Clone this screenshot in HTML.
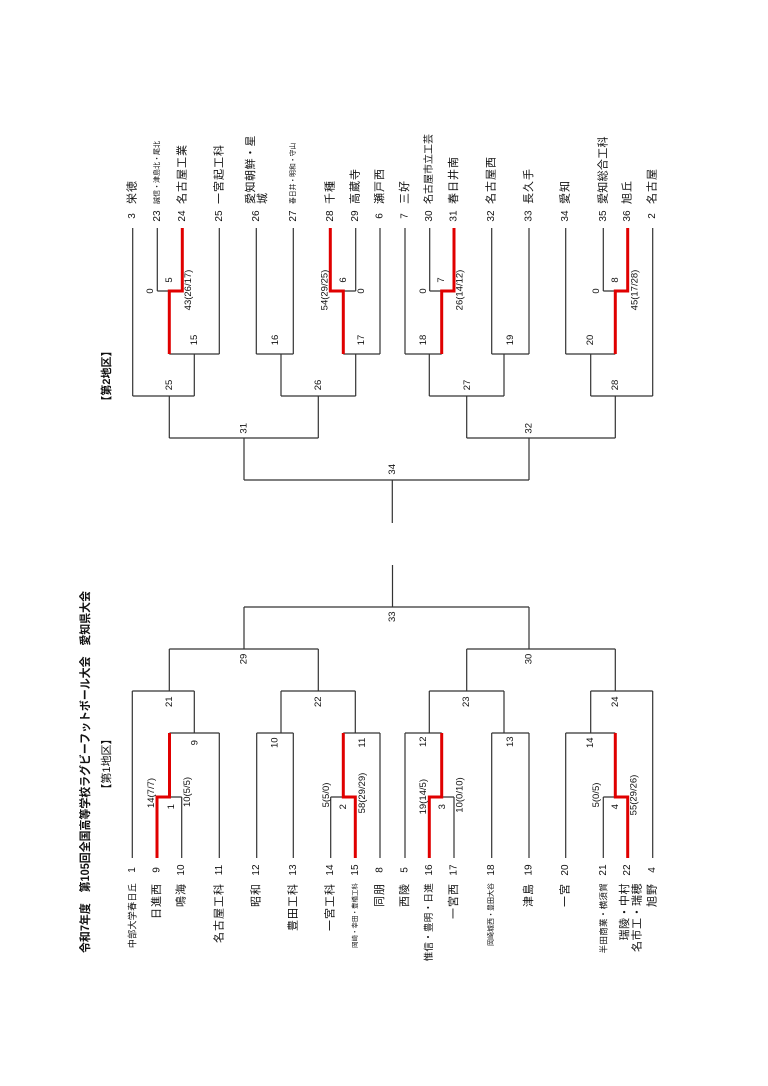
<!DOCTYPE html>
<html><head><meta charset="utf-8"><style>
html,body{margin:0;padding:0;background:#fff;}
svg{display:block;}
text{font-family:"Liberation Sans","Noto Sans CJK JP",sans-serif;fill:#111;dominant-baseline:central;}
.n{font-size:10px;text-anchor:middle;}
.s{font-size:9.5px;text-anchor:middle;}
.b{font-size:11px;letter-spacing:1px;}
.m{font-size:9px;letter-spacing:0.3px;}
.t{font-size:6.5px;}
.g{fill:none;stroke:#333;stroke-width:1.2;}
.r{fill:none;stroke:#e00000;stroke-width:3;}
</style></head><body>
<svg width="768" height="1086" viewBox="0 0 768 1086" xmlns="http://www.w3.org/2000/svg">
<path class="g" d="
M132.3 858V691 M181.7 858V797 M169.5 797H181.7 M219.3 858V733 M169.5 733H219.3 M194.3 733V691
M132.3 691H194.3 M169.3 691V649
M256.7 858V733 M293.3 858V733 M256.7 733H293.3 M281 733V691
M330.7 858V797 M330.7 797H343.3 M380 858V733 M343.3 733H380 M355.3 733V691
M281 691H355.3 M318.3 691V649 M169.3 649H318.3 M244 649V607
M405 858V733 M454 858V797 M441.7 797H454 M405 733H441.7 M429.3 733V691
M491.7 858V733 M529 858V733 M491.7 733H529 M504 733V691 M429.3 691H504 M466.7 691V649
M565.7 858V733 M603.3 858V797 M603.3 797H615.3 M565.7 733H615.3 M590.7 733V691
M652.7 858V691 M590.7 691H652.7 M615.3 691V649 M466.7 649H615.3 M529 649V607
M244 607H529 M392.5 607V565"/>
<path class="r" d="M157 858V797H169.5V733 M355.3 858V797H343.3V733 M429.3 858V797H441.7V733 M627.7 858V797H615.3V733"/>
<path class="g" d="
M132.7 228V396 M157.3 228V291 M157.3 291H169.3 M219.3 228V354 M169.3 354H219.3 M194.3 354V396
M132.7 396H194.3 M169.3 396V438
M256.3 228V354 M293.3 228V354 M256.3 354H293.3 M281 354V396
M355.7 228V291 M343.3 291H355.7 M380 228V354 M343.3 354H380 M355.7 354V396
M281 396H355.7 M318.3 396V438 M169.3 438H318.3 M244 438V480
M405 228V354 M429.7 228V291 M429.7 291H441.7 M405 354H441.7 M429.3 354V396
M491.7 228V354 M529 228V354 M491.7 354H529 M504 354V396 M429.3 396H504 M466.7 396V438
M565.7 228V354 M603.3 228V291 M603.3 291H615.3 M565.7 354H615.3 M590.7 354V396
M652.7 228V396 M590.7 396H652.7 M615.3 396V438 M466.7 438H615.3 M529 438V480
M244 480H529 M392.3 480V523"/>
<path class="r" d="M182.3 228V291H169.3V354 M330.3 228V291H343.3V354 M454 228V291H441.7V354 M627.7 228V291H615.3V354"/>

<text transform="translate(86,953) rotate(-90)" style="font-size:11.5px;font-weight:bold" textLength="362" lengthAdjust="spacingAndGlyphs">令和7年度　第105回全国高等学校ラグビーフットボール大会　愛知県大会</text>
<text transform="translate(107,764) rotate(-90)" style="font-size:11px;text-anchor:middle">【第1地区】</text>
<text transform="translate(107,376) rotate(-90)" style="font-size:11px;text-anchor:middle;font-weight:bold">【第2地区】</text>

<g class="n">
<text transform="translate(132.3,870) rotate(-90)">1</text>
<text transform="translate(157,870) rotate(-90)">9</text>
<text transform="translate(181.7,870) rotate(-90)">10</text>
<text transform="translate(219.3,870) rotate(-90)">11</text>
<text transform="translate(256.7,870) rotate(-90)">12</text>
<text transform="translate(293.3,870) rotate(-90)">13</text>
<text transform="translate(330.7,870) rotate(-90)">14</text>
<text transform="translate(355.3,870) rotate(-90)">15</text>
<text transform="translate(380,870) rotate(-90)">8</text>
<text transform="translate(405,870) rotate(-90)">5</text>
<text transform="translate(429.3,870) rotate(-90)">16</text>
<text transform="translate(454,870) rotate(-90)">17</text>
<text transform="translate(491.7,870) rotate(-90)">18</text>
<text transform="translate(529,870) rotate(-90)">19</text>
<text transform="translate(565.7,870) rotate(-90)">20</text>
<text transform="translate(603.3,870) rotate(-90)">21</text>
<text transform="translate(627.7,870) rotate(-90)">22</text>
<text transform="translate(652.7,870) rotate(-90)">4</text>
</g>
<g style="text-anchor:end">
<text class="m" transform="translate(132.3,883) rotate(-90)">中部大学春日丘</text>
<text class="b" transform="translate(157,883) rotate(-90)">日進西</text>
<text class="b" transform="translate(181.7,883) rotate(-90)">鳴海</text>
<text class="b" transform="translate(219.3,883) rotate(-90)">名古屋工科</text>
<text class="b" transform="translate(256.7,883) rotate(-90)">昭和</text>
<text class="b" transform="translate(293.3,883) rotate(-90)">豊田工科</text>
<text class="b" transform="translate(330.7,883) rotate(-90)">一宮工科</text>
<text class="t" transform="translate(355.3,883) rotate(-90)">岡崎・幸田・豊橋工科</text>
<text class="b" transform="translate(380,883) rotate(-90)">同朋</text>
<text class="b" transform="translate(405,883) rotate(-90)">西陵</text>
<text class="m" style="font-size:9.5px" transform="translate(429.3,883) rotate(-90)">惟信・豊明・日進</text>
<text class="b" transform="translate(454,883) rotate(-90)">一宮西</text>
<text class="t" style="font-size:7px" transform="translate(491.7,883) rotate(-90)">岡崎城西・豊田大谷</text>
<text class="b" transform="translate(529,883) rotate(-90)">津島</text>
<text class="b" transform="translate(565.7,883) rotate(-90)">一宮</text>
<text class="m" style="font-size:8.5px" transform="translate(603.3,883) rotate(-90)">半田商業・横須賀</text>
<text class="b" style="letter-spacing:0.5px" transform="translate(625,883) rotate(-90)">瑞陵・中村</text>
<text class="b" style="letter-spacing:0.5px" transform="translate(637.5,883) rotate(-90)">名市工・瑞穂</text>
<text class="b" transform="translate(652.7,883) rotate(-90)">旭野</text>
</g>

<g class="n">
<text transform="translate(132.7,216) rotate(-90)">3</text>
<text transform="translate(157.3,216) rotate(-90)">23</text>
<text transform="translate(182.3,216) rotate(-90)">24</text>
<text transform="translate(219.3,216) rotate(-90)">25</text>
<text transform="translate(256.3,216) rotate(-90)">26</text>
<text transform="translate(293.3,216) rotate(-90)">27</text>
<text transform="translate(330.3,216) rotate(-90)">28</text>
<text transform="translate(355.7,216) rotate(-90)">29</text>
<text transform="translate(380,216) rotate(-90)">6</text>
<text transform="translate(405,216) rotate(-90)">7</text>
<text transform="translate(429.7,216) rotate(-90)">30</text>
<text transform="translate(454,216) rotate(-90)">31</text>
<text transform="translate(491.7,216) rotate(-90)">32</text>
<text transform="translate(529,216) rotate(-90)">33</text>
<text transform="translate(565.7,216) rotate(-90)">34</text>
<text transform="translate(603.3,216) rotate(-90)">35</text>
<text transform="translate(627.7,216) rotate(-90)">36</text>
<text transform="translate(652.7,216) rotate(-90)">2</text>
</g>
<g style="text-anchor:start">
<text class="b" transform="translate(132.7,204) rotate(-90)">栄徳</text>
<text class="t" style="font-size:7px" transform="translate(157.3,204) rotate(-90)">誠信・津島北・尾北</text>
<text class="b" transform="translate(182.3,204) rotate(-90)">名古屋工業</text>
<text class="b" transform="translate(219.3,204) rotate(-90)">一宮起工科</text>
<text class="b" style="letter-spacing:0.5px" transform="translate(251,204) rotate(-90)">愛知朝鮮・星</text>
<text class="b" transform="translate(263,204) rotate(-90)">城</text>
<text class="t" style="font-size:6.8px" transform="translate(293.3,204) rotate(-90)">春日井・明和・守山</text>
<text class="b" transform="translate(330.3,204) rotate(-90)">千種</text>
<text class="b" transform="translate(355.7,204) rotate(-90)">高蔵寺</text>
<text class="b" transform="translate(380,204) rotate(-90)">瀬戸西</text>
<text class="b" transform="translate(405,204) rotate(-90)">三好</text>
<text class="b" style="letter-spacing:0;font-size:10px" transform="translate(429.7,204) rotate(-90)">名古屋市立工芸</text>
<text class="b" transform="translate(454,204) rotate(-90)">春日井南</text>
<text class="b" transform="translate(491.7,204) rotate(-90)">名古屋西</text>
<text class="b" transform="translate(529,204) rotate(-90)">長久手</text>
<text class="b" transform="translate(565.7,204) rotate(-90)">愛知</text>
<text class="b" style="letter-spacing:0.3px" transform="translate(603.3,204) rotate(-90)">愛知総合工科</text>
<text class="b" transform="translate(627.7,204) rotate(-90)">旭丘</text>
<text class="b" transform="translate(652.7,204) rotate(-90)">名古屋</text>
</g>

<g class="s">
<text transform="translate(151.7,793) rotate(-90)">14(7/7)</text>
<text transform="translate(171.7,806.7) rotate(-90)">1</text>
<text transform="translate(187.3,792) rotate(-90)">10(5/5)</text>
<text transform="translate(195,742.7) rotate(-90)">9</text>
<text transform="translate(169.3,701.7) rotate(-90)">21</text>
<text transform="translate(244,659) rotate(-90)">29</text>
<text transform="translate(392.7,616.7) rotate(-90)">33</text>
<text transform="translate(275,742.7) rotate(-90)">10</text>
<text transform="translate(318.3,701.7) rotate(-90)">22</text>
<text transform="translate(326.7,795) rotate(-90)">5(5/0)</text>
<text transform="translate(343.3,806.7) rotate(-90)">2</text>
<text transform="translate(362.7,793) rotate(-90)">58(29/29)</text>
<text transform="translate(362.7,742.7) rotate(-90)">11</text>
<text transform="translate(423.3,741.7) rotate(-90)">12</text>
<text transform="translate(423.3,796.7) rotate(-90)">19(14/5)</text>
<text transform="translate(442.7,806.7) rotate(-90)">3</text>
<text transform="translate(460,795) rotate(-90)">10(0/10)</text>
<text transform="translate(466.7,701.7) rotate(-90)">23</text>
<text transform="translate(510.7,741.7) rotate(-90)">13</text>
<text transform="translate(529,659) rotate(-90)">30</text>
<text transform="translate(590.7,742.7) rotate(-90)">14</text>
<text transform="translate(596.7,795) rotate(-90)">5(0/5)</text>
<text transform="translate(615.3,806.7) rotate(-90)">4</text>
<text transform="translate(634,795) rotate(-90)">55(29/26)</text>
<text transform="translate(615.3,701.7) rotate(-90)">24</text>
</g>
<g class="s">
<text transform="translate(150.7,291) rotate(-90)">0</text>
<text transform="translate(169.3,280) rotate(-90)">5</text>
<text transform="translate(188.3,290) rotate(-90)">43(26/17)</text>
<text transform="translate(194.3,340) rotate(-90)">15</text>
<text transform="translate(169.3,385) rotate(-90)">25</text>
<text transform="translate(244,428.3) rotate(-90)">31</text>
<text transform="translate(392.3,469.3) rotate(-90)">34</text>
<text transform="translate(275.7,340) rotate(-90)">16</text>
<text transform="translate(325,290) rotate(-90)">54(29/25)</text>
<text transform="translate(343.3,280) rotate(-90)">6</text>
<text transform="translate(361.7,291) rotate(-90)">0</text>
<text transform="translate(361.7,340) rotate(-90)">17</text>
<text transform="translate(318.3,385) rotate(-90)">26</text>
<text transform="translate(423.3,291) rotate(-90)">0</text>
<text transform="translate(441.7,280) rotate(-90)">7</text>
<text transform="translate(460,290) rotate(-90)">26(14/12)</text>
<text transform="translate(423.3,340) rotate(-90)">18</text>
<text transform="translate(467.3,385) rotate(-90)">27</text>
<text transform="translate(510.7,340) rotate(-90)">19</text>
<text transform="translate(529,428.3) rotate(-90)">32</text>
<text transform="translate(596.7,291) rotate(-90)">0</text>
<text transform="translate(615.3,280) rotate(-90)">8</text>
<text transform="translate(635,290) rotate(-90)">45(17/28)</text>
<text transform="translate(590.7,340) rotate(-90)">20</text>
<text transform="translate(615.3,385) rotate(-90)">28</text>
</g>
</svg>
</body></html>
